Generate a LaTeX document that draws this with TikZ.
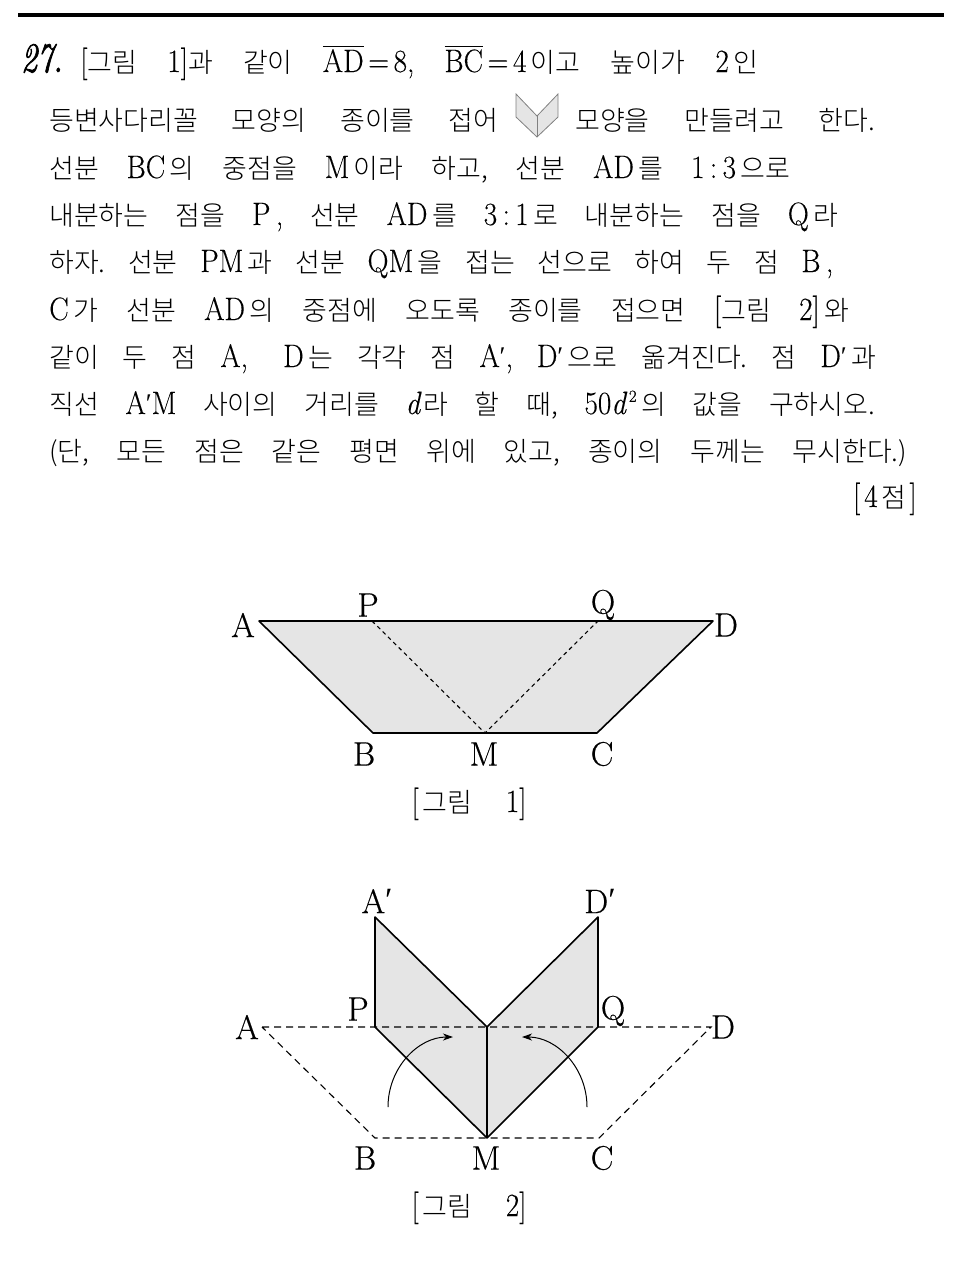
\documentclass[tikz,border=0pt]{standalone}
\usepackage[no-math]{fontspec}
\usetikzlibrary{arrows.meta}
\setmainfont{Noto Sans CJK KR Light}
\newfontfamily\lmfont[Scale=1.2, FakeBold=0.2, FakeStretch=0.9]{Latin Modern Roman}
\newfontfamily\lmlabel[FakeBold=0.4]{Latin Modern Roman}
\newfontfamily\numfont[FakeStretch=0.76, FakeBold=1.6]{Latin Modern Roman}
\newfontfamily\primefont{Liberation Serif}
\newcommand{\la}[1]{{\lmfont #1}}
\newcommand{\prm}{\raisebox{2pt}{\primefont\char"2032}}
\newcommand{\ol}[1]{\leavevmode\vbox{\hrule height 1pt \kern 2.5pt \hbox{#1}}}
\newcommand{\sline}[2]{\makebox[#1pt][s]{#2}}
\tikzset{
    txt/.style={anchor=base west, inner sep=0pt, font=\fontsize{27}{32}\selectfont\frenchspacing},
    lbl/.style={inner sep=0pt, font=\fontsize{34}{40}\lmlabel},
    paper/.style={fill=black!10},
    edge/.style={line width=1.6pt, line join=round},
    fold/.style={line width=1.1pt, dash pattern=on 4pt off 3.5pt},
    trace/.style={line width=1.1pt, dash pattern=on 7pt off 5pt},
    turn/.style={line width=1pt, -{Stealth[length=10pt,width=7pt,inset=3pt]}},
}
\begin{document}
\begin{tikzpicture}[x=1pt, y=-1pt]
    \useasboundingbox (0, 0) rectangle (954, 1269);
    \coordinate (ruleL) at (18, 15);
    \coordinate (ruleR) at (944, 15);
    \draw[line width=4pt] (ruleL) -- (ruleR);

    % problem text
    \node[anchor=base west, inner sep=0pt, font=\fontsize{42}{44}\numfont\itshape] (num) at (21, 72) {27.};
    \node[txt] (line1) at (80, 72) {\sline{678}{\la{[}그림 \la{1]}과 같이 \ol{\la{AD}}\,\la{=}\,\la{8,} \ol{\la{BC}}\,\la{=}\,\la{4}\,이고 높이가 \la{2}\,인}};
    \node[txt] (line2a) at (49, 130) {\sline{449}{등변사다리꼴 모양의 종이를 접어}};
    \node[txt] (line2b) at (575, 130) {\sline{300}{모양을 만들려고 한다.}};
    \node[txt] (line3) at (49, 178) {\sline{741}{선분 \la{BC}\,의 중점을 \la{M}\,이라 하고, 선분 \la{AD}\,를 \la{1\,:\,3}\,으로}};
    \node[txt] (line4) at (49, 225) {\sline{789}{내분하는 점을 \la{P\,,} 선분 \la{AD}\,를 \la{3\,:\,1}\,로 내분하는 점을 \la{Q}\,라}};
    \node[txt] (line5) at (49, 272) {\sline{784}{하자. 선분 \la{PM}\,과 선분 \la{QM}\,을 접는 선으로 하여 두 점 \la{B\,,}}};
    \node[txt] (line6) at (49, 320) {\sline{800}{\la{C}\,가 선분 \la{AD}\,의 중점에 오도록 종이를 접으면 \la{[}그림 \la{2]}\,와}};
    \node[txt] (line7) at (49, 367) {\sline{827}{같이 두 점 \la{A, D}\,는 각각 점 \la{A}\prm\la{,} \la{D}\prm\,으로 옮겨진다. 점 \la{D}\prm\,과}};
    \node[txt] (line8) at (49, 414) {\sline{826}{직선 \la{A}\prm\la{M} 사이의 거리를 \la{\itshape d}\hspace{3pt}라 할 때, \la{50\itshape d}\hspace{3pt}\raisebox{0.45em}{\fontsize{17}{17}\lmlabel 2}\,의 값을 구하시오.}};
    \node[txt] (line9) at (49, 461) {\sline{858}{(단, 모든 점은 같은 평면 위에 있고, 종이의 두께는 무시한다.)}};
    \node[txt, anchor=base east] (score) at (917, 507) {\la{[}\hspace{4pt}\la{4}\hspace{4pt}점\hspace{3pt}\la{]}};

    % small icon in the text
    \coordinate (iL) at (516, 94);
    \coordinate (iT) at (537, 116);
    \coordinate (iR) at (558, 94);
    \coordinate (iQ) at (558, 117);
    \coordinate (iM) at (537, 137);
    \coordinate (iP) at (516, 117);
    \fill[paper] (iL) -- (iT) -- (iR) -- (iQ) -- (iM) -- (iP) -- cycle;
    \draw[gray, line width=0.8pt] (iL) -- (iT) -- (iR) -- (iQ) -- (iM) -- (iP) -- cycle;
    \draw[gray, line width=0.8pt] (iT) -- (iM);

    % figure 1
    \coordinate (A1) at (259, 621);
    \coordinate (D1) at (713, 621);
    \coordinate (B1) at (373, 733);
    \coordinate (C1) at (597, 733);
    \coordinate (M1) at (485, 733);
    \coordinate (P1) at (372, 621);
    \coordinate (Q1) at (598, 621);
    \fill[paper] (A1) -- (D1) -- (C1) -- (B1) -- cycle;
    \draw[edge] (A1) -- (D1) -- (C1) -- (B1) -- cycle;
    \draw[fold] (P1) -- (M1) -- (Q1);
    \node[lbl] (lA1) at (243, 625) {A};
    \node[lbl] (lP1) at (368, 605) {P};
    \node[lbl] (lQ1) at (603, 605) {Q};
    \node[lbl] (lD1) at (726, 625) {D};
    \node[lbl] (lB1) at (364, 754) {B};
    \node[lbl] (lM1) at (484, 754) {M};
    \node[lbl] (lC1) at (602, 754) {C};
    \node[txt, anchor=base] (cap1) at (469, 812) {\sline{115}{\la{[}\hspace{4pt}그림 \la{1]}}};

    % figure 2
    \coordinate (Ap) at (375, 917);
    \coordinate (Dp) at (598, 917);
    \coordinate (P2) at (375, 1027);
    \coordinate (Q2) at (598, 1027);
    \coordinate (N2) at (487, 1027);
    \coordinate (M2) at (487, 1138);
    \coordinate (A2) at (262, 1027);
    \coordinate (D2) at (711, 1027);
    \coordinate (B2) at (375, 1138);
    \coordinate (C2) at (599, 1138);
    \fill[paper] (Ap) -- (N2) -- (Dp) -- (Q2) -- (M2) -- (P2) -- cycle;
    \draw[trace] (A2) -- (D2) -- (C2) -- (B2) -- cycle;
    \draw[edge] (Ap) -- (N2) -- (Dp) -- (Q2) -- (M2) -- (P2) -- cycle;
    \draw[edge] (N2) -- (M2);
    \coordinate (arL0) at (388, 1107);
    \coordinate (arL1) at (453, 1037);
    \coordinate (arR0) at (587, 1107);
    \coordinate (arR1) at (522, 1037);
    \draw[turn] (arL0) .. controls (388, 1068) and (418, 1037) .. (arL1);
    \draw[turn] (arR0) .. controls (587, 1068) and (557, 1037) .. (arR1);
    \node[lbl] (lAp) at (377, 901) {A\prm};
    \node[lbl] (lDp) at (600, 901) {D\prm};
    \node[lbl] (lP2) at (358, 1009) {P};
    \node[lbl] (lQ2) at (613, 1011) {Q};
    \node[lbl] (lA2) at (247, 1027) {A};
    \node[lbl] (lD2) at (723, 1027) {D};
    \node[lbl] (lB2) at (365, 1158) {B};
    \node[lbl] (lM2) at (486, 1158) {M};
    \node[lbl] (lC2) at (602, 1158) {C};
    \node[txt, anchor=base] (cap2) at (469, 1216) {\sline{115}{\la{[}\hspace{4pt}그림 \la{2]}}};
\end{tikzpicture}
\end{document}
